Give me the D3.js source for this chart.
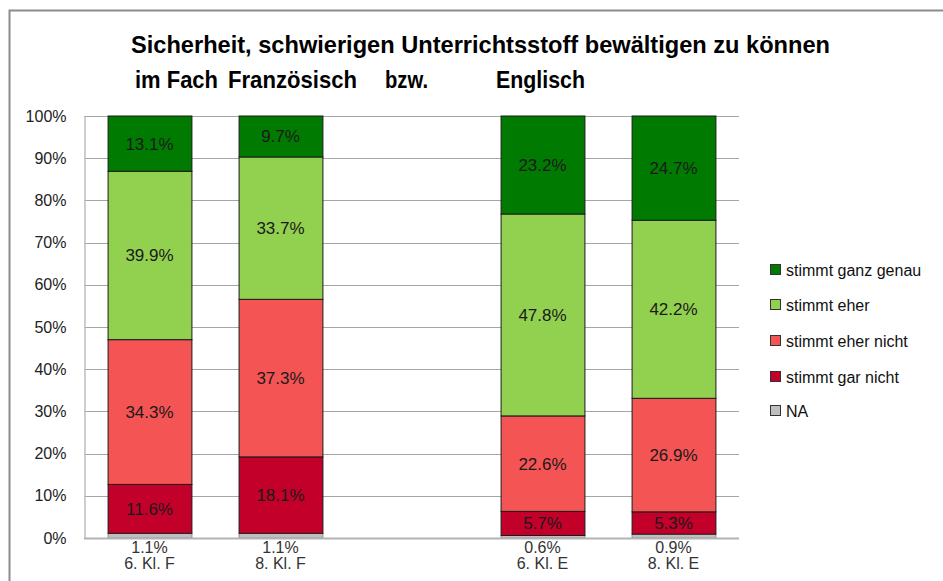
<!DOCTYPE html>
<html>
<head>
<meta charset="utf-8">
<script src="https://cdn.jsdelivr.net/npm/d3@7"></script>
<style>
  html, body { margin: 0; padding: 0; background: #fff; }
  svg { display: block; }
</style>
</head>
<body>
<svg id="chart" width="943" height="581"></svg>
<script>
// ---- data ----
const categories = ["6. Kl. F", "8. Kl. F", "", "6. Kl. E", "8. Kl. E"];
const seriesNames = ["NA", "stimmt gar nicht", "stimmt eher nicht", "stimmt eher", "stimmt ganz genau"];
const seriesColors = ["#bfbfbf", "#c3002a", "#f55454", "#92d050", "#007a00"];
const valNA         = [1.1, 1.1, null, 0.6, 0.9];
const valGarNicht   = [11.6, 18.1, null, 5.7, 5.3];
const valEherNicht  = [34.3, 37.3, null, 22.6, 26.9];
const valEher       = [39.9, 33.7, null, 47.8, 42.2];
const valGanzGenau  = [13.1, 9.7, null, 23.2, 24.7];
const yTicks = [0, 0.1, 0.2, 0.3, 0.4, 0.5, 0.6, 0.7, 0.8, 0.9, 1.0];
const titleLine1 = "Sicherheit, schwierigen Unterrichtsstoff bewältigen zu können";
const titleLine2 = ["im Fach", "Französisch", "bzw.", "Englisch"];

// layout for title words (x start, width)
const titleLine2Pos = [[135, 83], [228, 129], [385, 43], [496, 89]];

// ---- build table ----
const seriesVals = [valNA, valGarNicht, valEherNicht, valEher, valGanzGenau];
const rows = categories.map((c, i) => {
  const r = { key: c === "" ? "__gap" : c, label: c, empty: c === "" };
  const total = d3.sum(seriesVals, s => s[i] || 0);
  seriesNames.forEach((n, k) => {
    r[n] = r.empty ? 0 : seriesVals[k][i] / total;
    r["raw_" + n] = seriesVals[k][i];
  });
  return r;
});

const svg = d3.select("#chart");
const font = "'Liberation Sans', Arial, sans-serif";
const titleFont = "'Liberation Sans Narrow', 'Liberation Sans', sans-serif";

// outer frame
svg.append("rect").attr("x", 9.5).attr("y", 10.5).attr("width", 1000).attr("height", 1000)
  .attr("fill", "none").attr("stroke", "#8c8c8c").attr("stroke-width", 2);

// title
svg.append("text").attr("x", 131).attr("y", 53)
  .attr("font-family", titleFont)
  .attr("font-weight", "bold").attr("font-size", 24).attr("fill", "#000")
  .attr("textLength", 699).attr("lengthAdjust", "spacingAndGlyphs")
  .text(titleLine1);
const t2 = svg.append("g");
titleLine2.forEach((txt, i) => {
  t2.append("text").attr("x", titleLine2Pos[i][0]).attr("y", 88)
    .attr("font-family", titleFont)
    .attr("font-weight", "bold").attr("font-size", 24).attr("fill", "#000")
    .attr("textLength", titleLine2Pos[i][1]).attr("lengthAdjust", "spacingAndGlyphs")
    .text(txt);
});

// scales
const x = d3.scaleBand().domain(rows.map(r => r.key)).range([84, 739])
  .paddingInner(0.36).paddingOuter(0.18);
const y = d3.scaleLinear().domain([0, 1]).range([538, 116]);

// gridlines
svg.append("g").selectAll("line").data(yTicks.filter(t => t > 0)).join("line")
  .attr("x1", 84).attr("x2", 739)
  .attr("y1", d => Math.round(y(d)) + 0.5).attr("y2", d => Math.round(y(d)) + 0.5)
  .attr("stroke", "#a6a6a6").attr("stroke-width", 1);

// y axis
const yAxis = svg.append("g").attr("transform", "translate(84.5,0)")
  .call(d3.axisLeft(y).tickValues(yTicks).tickFormat(d3.format(".0%")).tickSize(0).tickPadding(18));
yAxis.select(".domain").attr("stroke", "#bfbfbf").attr("stroke-width", 1.5);
yAxis.selectAll("text").attr("font-family", font).attr("font-size", 16).attr("fill", "#222");

// stacked bars
const stack = d3.stack().keys(seriesNames);
const stacked = stack(rows);
const gBars = svg.append("g");
stacked.forEach((layer, k) => {
  gBars.append("g").selectAll("rect").data(layer.filter(d => !d.data.empty)).join("rect")
    .attr("x", d => x(d.data.key) + 0.5)
    .attr("width", x.bandwidth())
    .attr("y", d => y(d[1]))
    .attr("height", d => y(d[0]) - y(d[1]))
    .attr("fill", seriesColors[k])
    .attr("stroke", k === 0 ? "#8c8c8c" : "#1a1a1a")
    .attr("stroke-width", 1);
});

// x axis line
svg.append("line").attr("x1", 84).attr("x2", 739).attr("y1", 538.5).attr("y2", 538.5)
  .attr("stroke", "#b3b3b3").attr("stroke-width", 2);

// data labels
stacked.forEach((layer, k) => {
  if (k === 0) return;
  svg.append("g").selectAll("text").data(layer.filter(d => !d.data.empty)).join("text")
    .attr("x", d => x(d.data.key) + x.bandwidth() / 2)
    .attr("y", d => (y(d[0]) + y(d[1])) / 2 + 6)
    .attr("text-anchor", "middle")
    .attr("font-family", font).attr("font-size", 17).attr("fill", "#1a1a1a")
    .text(d => d3.format(".1f")(d.data["raw_" + seriesNames[k]]) + "%");
});

// NA labels below bars + category labels
const gCat = svg.append("g");
rows.filter(r => !r.empty).forEach(r => {
  const cx = x(r.key) + x.bandwidth() / 2;
  gCat.append("text").attr("x", cx).attr("y", 553).attr("text-anchor", "middle")
    .attr("font-family", font).attr("font-size", 16).attr("fill", "#333")
    .text(d3.format(".1f")(r["raw_NA"]) + "%");
  gCat.append("text").attr("x", cx).attr("y", 569).attr("text-anchor", "middle")
    .attr("font-family", font).attr("font-size", 16).attr("fill", "#333")
    .text(r.label);
});

// legend
const legendOrder = [4, 3, 2, 1, 0];
const legendY = [270, 305, 341, 377, 411];
const gLeg = svg.append("g");
legendOrder.forEach((k, i) => {
  gLeg.append("rect").attr("x", 770.5).attr("y", legendY[i] - 5.5).attr("width", 10).attr("height", 10)
    .attr("fill", seriesColors[k]).attr("stroke", "#333").attr("stroke-width", 1);
  gLeg.append("text").attr("x", 786).attr("y", legendY[i] + 5.5)
    .attr("font-family", font).attr("font-size", 16).attr("fill", "#111")
    .text(seriesNames[k]);
});
</script>
</body>
</html>
